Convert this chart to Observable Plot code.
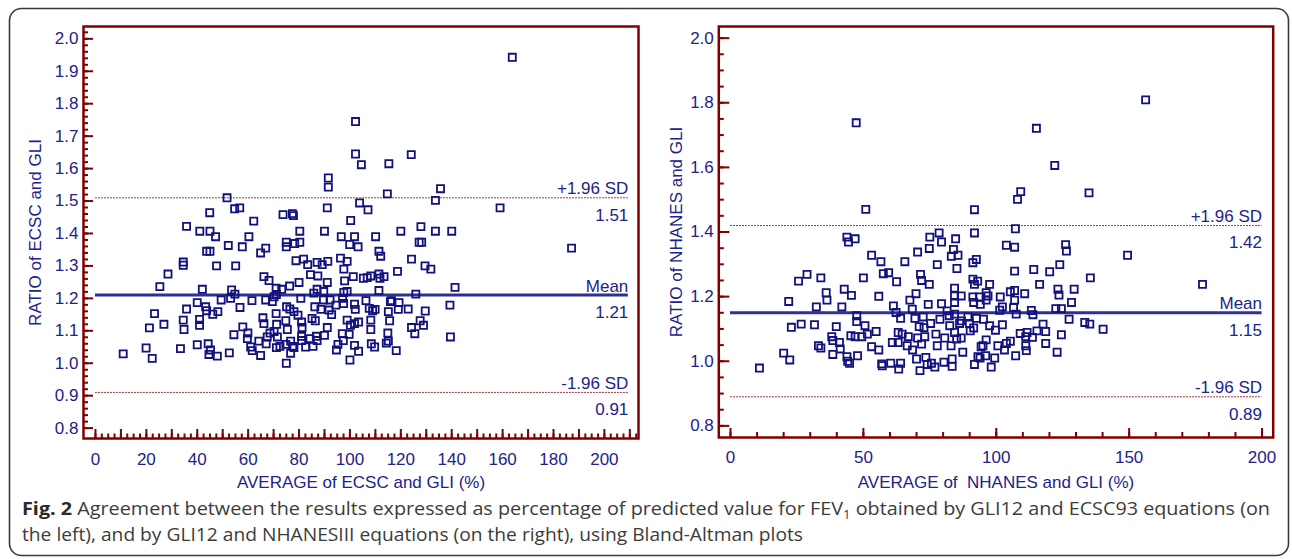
<!DOCTYPE html>
<html><head><meta charset="utf-8">
<script src="https://cdn.jsdelivr.net/npm/d3@7"></script>
<script src="https://cdn.jsdelivr.net/npm/@observablehq/plot@0.6"></script>
<style>
body{margin:0;background:#fff;}
#wrap{position:relative;width:1292px;height:559px;overflow:hidden;background:#fff;}
#wrap > svg{position:absolute;top:0;}
</style></head><body><div id="wrap"></div>
<script>
// ---- Left panel: ECSC vs GLI (average %, ratio) ----
const ecscPoints = [
[41.0,1.407],[45.0,1.407],[47.2,1.39],[60.3,1.39],[52.2,1.363],[57.7,1.359],[66.9,1.355],[75.0,1.373],[75.0,1.359],[78.3,1.369],[80.3,1.373],[80.3,1.407],
[43.7,1.345],[45.0,1.345],[64.9,1.34],[34.5,1.312],[34.5,1.302],[47.6,1.30],[55.1,1.30],[28.5,1.275],[25.3,1.236],[42.0,1.228],[53.5,1.226],[54.8,1.213],[53.1,1.20],[49.4,1.195],[61.5,1.193],[40.0,1.187],[43.3,1.174],[35.8,1.167],[56.8,1.172],[43.7,1.162],[48.1,1.159],[46.1,1.151],[23.2,1.153],[21.2,1.109],[26.9,1.12],[34.5,1.133],[34.8,1.104],[40.9,1.135],[40.9,1.117],[10.9,1.029],[19.9,1.047],[22.3,1.015],[33.4,1.045],[40.0,1.057],[44.3,1.06],[45.2,1.041],[44.6,1.027],[47.9,1.022],[52.6,1.032],[54.4,1.088],[57.9,1.112],[59.9,1.093],[59.7,1.076],[61.0,1.05],[61.6,1.039],[64.2,1.068],[64.9,1.024],[65.8,1.14],[66.2,1.122],[66.2,1.267],[68.2,1.255],[66.9,1.195],[69.5,1.19],[70.2,1.205],[71.0,1.231],[73.2,1.228],[76.3,1.238],[80.0,1.249],[78.8,1.316],[80.7,1.20],[71.1,1.212],[75.1,1.174],[76.4,1.167],[78.0,1.159],[79.6,1.148],[71.0,1.153],[71.2,1.12],[74.8,1.131],[75.4,1.104],[81.0,1.127],[81.2,1.11],[68.6,1.093],[67.5,1.081],[70.2,1.098],[71.5,1.081],[67.1,1.06],[71.1,1.048],[72.5,1.052],[74.8,1.058],[76.7,1.068],[77.5,1.052],[76.7,1.031],[75.0,1.0],[78.0,1.048],[81.0,1.083],[81.0,1.07],
[90.0,1.407],[96.6,1.39],[101.8,1.39],[110.1,1.39],[120.0,1.407],[133.6,1.407],[140.0,1.407],[99.9,1.366],[103.2,1.359],[111.4,1.345],[112.1,1.33],[127.2,1.373],[128.2,1.373],[187.1,1.355],[81.8,1.321],[83.4,1.304],[87.1,1.311],[89.1,1.304],[91.3,1.314],[96.3,1.324],[98.9,1.314],[97.6,1.29],[124.2,1.321],[129.5,1.30],[131.8,1.29],[118.7,1.283],[84.5,1.273],[87.4,1.269],[91.1,1.249],[97.9,1.254],[101.3,1.267],[105.3,1.262],[106.8,1.264],[108.2,1.269],[111.4,1.275],[111.8,1.262],[113.4,1.267],[85.8,1.216],[87.1,1.228],[89.7,1.221],[97.6,1.218],[98.9,1.221],[111.4,1.224],[125.9,1.213],[141.3,1.234],[86.2,1.174],[88.6,1.166],[89.6,1.195],[92.2,1.195],[91.8,1.164],[92.8,1.15],[94.5,1.179],[97.1,1.20],[97.5,1.184],[101.8,1.182],[102.1,1.166],[106.3,1.193],[107.6,1.169],[108.9,1.162],[109.9,1.166],[115.1,1.159],[115.9,1.19],[116.3,1.193],[119.3,1.187],[119.0,1.166],[122.9,1.167],[129.6,1.161],[139.3,1.179],[85.1,1.138],[86.4,1.131],[98.9,1.133],[100.2,1.117],[101.8,1.122],[103.4,1.127],[108.2,1.133],[115.6,1.131],[108.2,1.104],[124.2,1.11],[127.6,1.131],[128.9,1.117],[125.5,1.091],[91.1,1.11],[84.3,1.076],[87.1,1.07],[90.0,1.086],[86.8,1.083],[97.0,1.091],[99.7,1.089],[97.4,1.07],[82.6,1.05],[85.5,1.052],[94.7,1.041],[95.3,1.058],[101.8,1.055],[103.4,1.037],[108.4,1.06],[109.7,1.05],[114.3,1.062],[115.1,1.068],[114.9,1.093],[118.2,1.039],[100.0,1.01],[139.5,1.081],
[163.8,1.943],[102.2,1.745],[102.2,1.645],[104.5,1.612],[115.3,1.615],[124.1,1.643],[91.5,1.571],[91.5,1.543],[114.7,1.522],[135.6,1.538],[133.6,1.502],[91.1,1.479],[103.8,1.494],[107.1,1.473],[159.0,1.479],[100.3,1.44],[127.9,1.421],
[51.7,1.51],[44.9,1.464],[54.7,1.476],[56.7,1.479],[62.2,1.438],[73.7,1.458],[77.4,1.461],[77.8,1.455],[35.8,1.422]
];
const ecscLineValues = [1.51, 1.21, 0.91];
const ecscLineNames = ["+1.96 SD", "Mean", "-1.96 SD"];
const ecscLineLabels = ["1.51", "1.21", "0.91"];
const ecscLineSpan = [0, 209.4];
const ecscXTicks = [0, 20, 40, 60, 80, 100, 120, 140, 160, 180, 200];
const ecscYTicks = [0.8, 0.9, 1.0, 1.1, 1.2, 1.3, 1.4, 1.5, 1.6, 1.7, 1.8, 1.9, 2.0];

// ---- Right panel: NHANES vs GLI ----
const nhanesPoints = [
[10.9,0.979],[20.0,1.025],[22.3,1.004],[21.9,1.185],[22.9,1.105],[26.6,1.115],[25.6,1.248],[28.8,1.269],[31.6,1.113],[32.3,1.168],[34.0,1.258],[33.1,1.048],[34.0,1.041],[36.0,1.212],[36.3,1.189],[38.1,1.076],[38.5,1.064],[39.8,1.107],[38.5,1.021],[41.0,1.058],[41.3,1.038],[41.9,1.168],[42.8,1.223],[45.5,1.204],[43.8,1.384],[44.4,1.369],[46.9,1.379],[43.8,1.014],[44.1,1.0],[44.8,0.994],[45.3,1.079],[46.9,1.076],[47.8,1.017],[47.5,1.141],[47.5,1.123],[49.4,1.076],[50.0,1.258],[50.6,1.11],[51.5,1.084],[53.1,1.328],[53.1,1.045],[54.8,1.092],[55.8,1.035],[55.8,1.201],[56.6,1.308],[56.9,0.992],[57.5,1.271],[59.5,1.274],[57.1,0.986],[60.3,0.994],[60.9,1.058],[62.5,1.246],[61.3,1.171],[62.3,1.151],[63.1,1.089],[63.1,1.058],[63.3,0.976],[64.0,1.133],[64.0,0.994],[64.6,1.084],[65.6,1.308],[66.5,1.048],[66.9,1.076],[67.5,1.189],[68.4,1.161],[68.5,1.035],[69.4,1.133],[69.8,1.209],[70.0,1.007],[70.4,1.338],[70.4,1.072],[71.0,1.107],[71.5,1.269],[71.9,1.25],[71.3,0.971],[71.9,1.053],[72.5,1.137],[72.8,1.104],[73.1,1.076],[73.5,1.012],[74.0,0.99],[74.4,1.176],[74.8,1.238],[74.8,1.349],[75.0,1.384],[75.3,1.117],[75.6,0.994],[76.9,0.982],[77.3,1.084],[77.8,1.299],[77.8,1.048],[78.5,1.397],[79.4,1.369],[79.4,1.178],[78.8,1.13],[80.3,0.997],[80.6,1.072],[81.5,1.156],[82.3,1.141],[82.5,1.11],
[84.7,1.379],[91.8,1.397],[83.9,1.346],[85.6,1.328],[83.1,1.325],[85.2,1.287],[103.8,1.359],[106.9,1.353],[126.1,1.361],[126.4,1.341],[149.4,1.328],[91.2,1.305],[92.5,1.315],[106.9,1.279],[114.1,1.284],[120.1,1.277],[123.9,1.299],[135.4,1.258],[177.6,1.238],[91.2,1.254],[93.0,1.248],[91.8,1.238],[97.5,1.238],[116.3,1.238],[84.3,1.226],[84.3,1.202],[86.8,1.202],[96.2,1.212],[96.9,1.202],[91.2,1.199],[93.7,1.199],[101.5,1.199],[105.3,1.215],[106.9,1.219],[110.7,1.209],[106.9,1.189],[123.2,1.223],[123.6,1.205],[129.3,1.223],[128.3,1.182],[84.3,1.182],[91.5,1.182],[94.0,1.176],[96.2,1.189],[102.3,1.168],[101.3,1.158],[106.5,1.166],[107.5,1.146],[113.2,1.157],[113.8,1.144],[122.4,1.163],[124.5,1.163],[84.3,1.146],[89.3,1.137],[92.5,1.133],[95.2,1.13],[86.9,1.125],[86.2,1.117],[89.9,1.117],[97.5,1.11],[99.7,1.096],[102.3,1.113],[91.5,1.103],[90.2,1.094],[127.4,1.13],[133.3,1.12],[135.2,1.115],[140.2,1.099],[117.6,1.115],[115.3,1.094],[118.6,1.092],[111.6,1.089],[109.0,1.086],[111.1,1.076],[113.6,1.074],[124.5,1.082],[84.3,1.089],[86.8,1.072],[85.1,1.069],[96.2,1.066],[95.0,1.048],[94.3,1.045],[100.6,1.048],[103.8,1.055],[105.3,1.062],[103.1,1.035],[111.1,1.048],[111.3,1.033],[118.6,1.055],[122.9,1.028],[83.0,1.048],[87.4,1.028],[83.4,1.007],[83.4,0.984],[93.1,1.014],[96.0,1.017],[93.9,1.01],[99.4,1.01],[91.8,0.99],[98.1,0.982],[107.3,1.017],
[47.3,1.738],[50.9,1.47],[91.8,1.469],[156.2,1.809],[115.1,1.721],[122.0,1.606],[109.2,1.525],[108.0,1.501],[134.9,1.521],[107.2,1.41]
];
const nhanesLineValues = [1.42, 1.15, 0.89];
const nhanesLineNames = ["+1.96 SD", "Mean", "-1.96 SD"];
const nhanesLineLabels = ["1.42", "1.15", "0.89"];
const nhanesLineSpan = [0, 200];
const nhanesXTicks = [0, 50, 100, 150, 200];
const nhanesYTicks = [0.8, 1.0, 1.2, 1.4, 1.6, 1.8, 2.0];

const captionLine1 = ["Fig. 2", " Agreement between the results expressed as percentage of predicted value for FEV", "1", " obtained by GLI12 and ECSC93 equations (on"];
const captionLine2 = "the left), and by GLI12 and NHANESIII equations (on the right), using Bland-Altman plots";

// ---- styling ----
const frameColor = "#800000";
const textColor = "#22228c";
const pointColor = "#11117f";
const meanColor = "#2f3192";
const sdColor = "#a03c3c";
const fs = 17;

function panel(o) {
  const lines = o.values.map((v, i) => ({v, name: o.names[i], label: o.labels[i]}));
  return Plot.plot({
    width: o.width, height: o.height,
    marginLeft: o.ml, marginRight: o.mr, marginTop: o.mt, marginBottom: o.mb,
    x: {domain: o.xDomain}, y: {domain: o.yDomain},
    style: {fontFamily: "'Liberation Sans', Arial, sans-serif", fontSize: fs + "px", color: textColor, background: "transparent", overflow: "visible"},
    marks: [
      Plot.axisY(o.yMinor, {tickSize: o.yMinorLen, insetLeft: o.yMinorLen, tickFormat: () => "", stroke: frameColor, strokeWidth: 2, label: null}),
      Plot.axisY(o.yTicks, {tickSize: o.yMajorLen, insetLeft: o.yMajorLen, tickPadding: 5, tickFormat: d3.format(".1f"), stroke: frameColor, strokeWidth: 2, fill: textColor, fontSize: fs, label: null}),
      Plot.axisX(o.xMinor, {tickSize: o.xMinorLen, insetBottom: o.xMinorLen, tickFormat: () => "", stroke: frameColor, strokeWidth: 2, label: null}),
      Plot.axisX(o.xMid, {tickSize: o.xMajorLen, insetBottom: o.xMajorLen, tickFormat: () => "", stroke: frameColor, strokeWidth: 2, label: null}),
      Plot.axisX(o.xTicks, {tickSize: 0, tickPadding: o.xPad, tickFormat: d3.format("d"), fill: textColor, fontSize: fs, label: null}),
      Plot.ruleY(lines.filter(d => d.name !== "Mean"), {y: "v", x1: o.span[0], x2: o.span[1], stroke: sdColor, strokeWidth: 1, strokeDasharray: "2,1"}),
      Plot.ruleY(lines.filter(d => d.name === "Mean"), {y: "v", x1: o.span[0], x2: o.span[1], stroke: meanColor, strokeWidth: 3}),
      Plot.dot(o.points, {x: d => d[0], y: d => d[1], symbol: "square", r: 4, stroke: pointColor, strokeWidth: 1.8, fill: "none"}),
      Plot.text(lines, {x: o.span[1], y: "v", text: "name", textAnchor: "end", dy: -9, fill: textColor, fontSize: fs}),
      Plot.text(lines, {x: o.span[1], y: "v", text: "label", textAnchor: "end", dy: 17.5, fill: textColor, fontSize: fs}),
      Plot.text([o.yTitle], {frameAnchor: "left", textAnchor: "middle", lineAnchor: "middle", dx: o.yTitleDx, rotate: -90, fill: textColor, fontSize: fs}),
      Plot.text([o.xTitle], {frameAnchor: "bottom", textAnchor: "middle", lineAnchor: "middle", dy: o.xTitleDy, fill: textColor, fontSize: fs}),
      Plot.frame({stroke: frameColor, strokeWidth: 2.5})
    ]
  });
}

const left = panel({
  points: ecscPoints, values: ecscLineValues, names: ecscLineNames, labels: ecscLineLabels, span: ecscLineSpan,
  width: 646, height: 500, ml: 83, mr: 8, mt: 26, mb: 62,
  xDomain: [-4.7, 213.4], yDomain: [0.768, 2.038],
  yTicks: ecscYTicks, yMinor: d3.range(0.8, 2.021, 0.02), yMajorLen: 10, yMinorLen: 5,
  xTicks: ecscXTicks, xMid: d3.range(0, 211, 10), xMinor: d3.range(0, 213, 2.5), xMajorLen: 9, xMinorLen: 4.5, xPad: 14.5,
  yTitle: "RATIO of ECSC and GLI", yTitleDx: -47.5,
  xTitle: "AVERAGE of ECSC and GLI (%)", xTitleDy: 44
});
const right = panel({
  points: nhanesPoints, values: nhanesLineValues, names: nhanesLineNames, labels: nhanesLineLabels, span: nhanesLineSpan,
  width: 646, height: 500, ml: 72.3, mr: 19.3, mt: 26, mb: 63,
  xDomain: [-4.4, 204.2], yDomain: [0.764, 2.036],
  yTicks: nhanesYTicks, yMinor: d3.range(0.8, 2.001, 0.05), yMajorLen: 11, yMinorLen: 5.5,
  xTicks: nhanesXTicks, xMid: nhanesXTicks, xMinor: d3.range(0, 201, 10), xMajorLen: 9, xMinorLen: 5, xPad: 13,
  yTitle: "RATIO of NHANES and GLI", yTitleDx: -42.3,
  xTitle: "AVERAGE of \u00a0NHANES and GLI (%)", xTitleDy: 45
});

const wrap = document.getElementById("wrap");
left.style.left = "0px";
right.style.left = "646px";
wrap.appendChild(left);
wrap.appendChild(right);

// border + caption overlay
const ns = "http://www.w3.org/2000/svg";
const ov = document.createElementNS(ns, "svg");
ov.setAttribute("width", 1292); ov.setAttribute("height", 559);
ov.style.left = "0px"; ov.style.pointerEvents = "none";
const rect = document.createElementNS(ns, "rect");
Object.entries({x: 9.5, y: 8.5, width: 1279, height: 547, rx: 12, fill: "none", stroke: "#3a3a3a", "stroke-width": 1.6}).forEach(([k, v]) => rect.setAttribute(k, v));
ov.appendChild(rect);
function capText(y, len) {
  const t = document.createElementNS(ns, "text");
  Object.entries({x: 22, y, textLength: len, lengthAdjust: "spacingAndGlyphs", "font-family": "'Open Sans', 'Noto Sans', sans-serif", "font-size": 18, fill: "#3c3c3c"}).forEach(([k, v]) => t.setAttribute(k, v));
  return t;
}
const t1 = capText(515, 1248);
const s0 = document.createElementNS(ns, "tspan"); s0.setAttribute("font-weight", "bold"); s0.setAttribute("fill", "#2a2a2a"); s0.textContent = captionLine1[0];
const s1 = document.createElementNS(ns, "tspan"); s1.textContent = captionLine1[1];
const s2 = document.createElementNS(ns, "tspan"); s2.setAttribute("font-size", 12); s2.setAttribute("dy", 4); s2.textContent = captionLine1[2];
const s3 = document.createElementNS(ns, "tspan"); s3.setAttribute("dy", -4); s3.textContent = captionLine1[3];
[s0, s1, s2, s3].forEach(s => t1.appendChild(s));
ov.appendChild(t1);
const t2 = capText(541, 781); t2.textContent = captionLine2;
ov.appendChild(t2);
wrap.appendChild(ov);
</script></body></html>
